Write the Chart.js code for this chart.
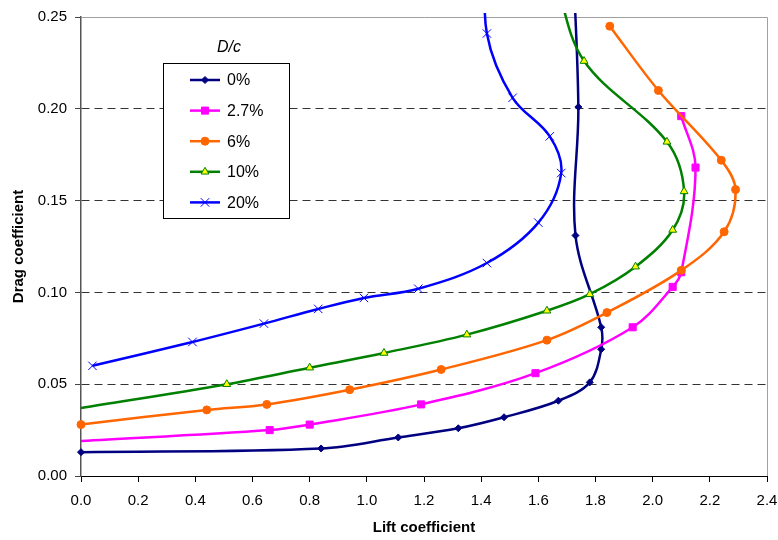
<!DOCTYPE html>
<html>
<head>
<meta charset="utf-8">
<script src="https://cdn.jsdelivr.net/npm/chart.js@4/dist/chart.umd.min.js"></script>
<style>
  html, body { margin: 0; padding: 0; background: #ffffff; }
  canvas { display: block; }
</style>
</head>
<body>
<canvas id="chart" width="778" height="540"></canvas>
<script>
// Series names (D/c)
const seriesNames = ['0%', '2.7%', '6%', '10%', '20%'];

// Lift / drag coefficient pairs per series
const lift0  = [0.00, 0.84, 1.11, 1.32, 1.48, 1.67, 1.78, 1.82, 1.82, 1.73, 1.74, 1.72];
const drag0  = [0.013, 0.015, 0.021, 0.026, 0.032, 0.041, 0.051, 0.069, 0.081, 0.131, 0.201, 0.285];

const lift27 = [0.00, 0.66, 0.80, 1.19, 1.59, 1.93, 2.07, 2.10, 2.15, 2.10];
const drag27 = [0.019, 0.025, 0.028, 0.039, 0.056, 0.081, 0.103, 0.111, 0.168, 0.196];

const lift6  = [0.00, 0.44, 0.65, 0.94, 1.26, 1.63, 1.84, 2.10, 2.25, 2.29, 2.24, 2.02, 1.85];
const drag6  = [0.028, 0.036, 0.039, 0.047, 0.058, 0.074, 0.089, 0.112, 0.133, 0.156, 0.172, 0.210, 0.245];

const lift10 = [0.00, 0.51, 0.80, 1.06, 1.35, 1.63, 1.78, 1.94, 2.07, 2.11, 2.05, 1.76, 1.66];
const drag10 = [0.037, 0.050, 0.059, 0.067, 0.077, 0.090, 0.099, 0.114, 0.134, 0.155, 0.182, 0.226, 0.270];

const lift20 = [0.04, 0.39, 0.64, 0.83, 0.99, 1.18, 1.42, 1.60, 1.68, 1.64, 1.51, 1.42, 1.42];
const drag20 = [0.060, 0.073, 0.083, 0.091, 0.097, 0.102, 0.116, 0.138, 0.165, 0.185, 0.206, 0.241, 0.285];

// Axis tick values
const liftTicks = [0.0, 0.2, 0.4, 0.6, 0.8, 1.0, 1.2, 1.4, 1.6, 1.8, 2.0, 2.2, 2.4];
const dragTicks = [0.00, 0.05, 0.10, 0.15, 0.20, 0.25];

const liftSeries = [lift0, lift27, lift6, lift10, lift20];
const dragSeries = [drag0, drag27, drag6, drag10, drag20];

// Appearance of each series
const lineColors   = ['#000080', '#FF00FF', '#FF6600', '#008000', '#0000FF'];
const markerStyles = ['rectRot', 'rect', 'circle', 'triangle', 'crossRot'];
const markerRadii  = [3.5, 5, 4, 4.5, 6];
const markerFills  = ['#000080', '#FF00FF', '#FF6600', '#FFFF00', '#0000FF'];
const markerEdges  = ['#000080', '#FF00FF', '#FF6600', '#008000', '#0000FF'];
// Series whose first point sits on the axis without a marker
const unmarkedStart = [1, 3];

const FONT = '"Liberation Sans", Arial, Helvetica, sans-serif';
Chart.defaults.font.family = FONT;
Chart.defaults.font.size = 15;
Chart.defaults.color = '#000000';

const datasets = seriesNames.map((name, i) => ({
  label: name,
  data: liftSeries[i].map((x, j) => ({ x: x, y: dragSeries[i][j] })),
  showLine: true,
  borderColor: lineColors[i],
  borderWidth: 2.5,
  backgroundColor: markerFills[i],
  pointStyle: markerStyles[i],
  pointRadius: ctx => (ctx.dataIndex === 0 && unmarkedStart.includes(i)) ? 0 : markerRadii[i],
  pointHoverRadius: markerRadii[i],
  pointBackgroundColor: markerFills[i],
  pointBorderColor: markerEdges[i],
  pointBorderWidth: 1,
  tension: 0.35,
  clip: { left: 8, top: 4, right: 2, bottom: 0 },
  order: seriesNames.length - i
}));

// Light frame along the top and right of the plot area
const framePlugin = {
  id: 'plotFrame',
  beforeDatasetsDraw(chart) {
    const { ctx, chartArea: a } = chart;
    ctx.save();
    ctx.strokeStyle = '#a0a0a0';
    ctx.lineWidth = 1;
    ctx.beginPath();
    ctx.moveTo(a.left, Math.round(a.top) + 0.5);
    ctx.lineTo(Math.round(a.right) + 0.5, Math.round(a.top) + 0.5);
    ctx.lineTo(Math.round(a.right) + 0.5, a.bottom);
    ctx.stroke();
    ctx.restore();
  }
};

// Boxed legend with a "D/c" heading, placed inside the plot
const legendBox = { left: 163, top: 63, width: 126, height: 155, headY: 48, headX: 229,
                    rowY: 80, rowGap: 30.6, lineX0: 190, lineX1: 220, textX: 227 };

function drawMarker(ctx, style, r, x, y) {
  if (Chart.helpers && Chart.helpers.drawPoint) {
    Chart.helpers.drawPoint(ctx, { pointStyle: style, radius: r, borderWidth: 1, rotation: 0 }, x, y);
    return;
  }
  ctx.beginPath();
  ctx.arc(x, y, r, 0, Math.PI * 2);
  ctx.fill();
  ctx.stroke();
}

const legendPlugin = {
  id: 'boxedLegend',
  afterDatasetsDraw(chart) {
    const ctx = chart.ctx;
    const b = legendBox;
    ctx.save();
    ctx.fillStyle = '#ffffff';
    ctx.fillRect(b.left, b.top, b.width, b.height);
    ctx.strokeStyle = '#000000';
    ctx.lineWidth = 1;
    ctx.strokeRect(b.left + 0.5, b.top + 0.5, b.width, b.height);

    ctx.fillStyle = '#000000';
    ctx.font = 'italic 16px ' + FONT;
    ctx.textAlign = 'center';
    ctx.textBaseline = 'middle';
    ctx.fillText('D/c', b.headX, b.headY);

    ctx.font = '16px ' + FONT;
    ctx.textAlign = 'left';
    chart.data.datasets.forEach((ds, i) => {
      const y = b.rowY + i * b.rowGap;
      ctx.strokeStyle = lineColors[i];
      ctx.lineWidth = 2.5;
      ctx.beginPath();
      ctx.moveTo(b.lineX0, y);
      ctx.lineTo(b.lineX1, y);
      ctx.stroke();
      ctx.fillStyle = markerFills[i];
      ctx.strokeStyle = markerEdges[i];
      ctx.lineWidth = 1;
      drawMarker(ctx, markerStyles[i], markerRadii[i], (b.lineX0 + b.lineX1) / 2, y);
      ctx.fillStyle = '#000000';
      ctx.fillText(ds.label, b.textX, y + 1);
    });
    ctx.restore();
  }
};

const near = (a, b) => Math.abs(a - b) < 1e-9;

new Chart(document.getElementById('chart'), {
  type: 'scatter',
  data: { datasets: datasets },
  plugins: [framePlugin, legendPlugin],
  options: {
    responsive: false,
    animation: false,
    devicePixelRatio: 1,
    layout: { padding: { left: 0, top: 17, right: 11, bottom: 0 } },
    elements: { line: { capBezierPoints: false } },
    plugins: {
      legend: { display: false },
      tooltip: { enabled: false }
    },
    scales: {
      x: {
        type: 'linear',
        min: 0,
        max: 2.4,
        afterBuildTicks: s => { s.ticks = liftTicks.map(v => ({ value: v })); },
        afterFit: s => { s.height = 64; s.paddingLeft = 0; s.paddingRight = 0; },
        grid: { display: true, drawOnChartArea: false, drawTicks: true, tickLength: 6, tickColor: '#000000', tickWidth: 1 },
        border: { display: true, color: '#000000', width: 1 },
        ticks: { padding: 10, autoSkip: false, maxRotation: 0, callback: v => Number(v).toFixed(1) },
        title: { display: true, text: 'Lift coefficient', font: { weight: 'bold', size: 15 }, padding: { top: 0, bottom: 3 } }
      },
      y: {
        type: 'linear',
        min: 0,
        max: 0.25,
        afterBuildTicks: s => { s.ticks = dragTicks.map(v => ({ value: v })); },
        afterFit: s => { s.width = 81; s.paddingTop = 0; s.paddingBottom = 0; },
        grid: {
          display: true,
          drawOnChartArea: true,
          drawTicks: true,
          tickLength: 6,
          lineWidth: 1,
          color: c => (c.tick && (near(c.tick.value, 0) || near(c.tick.value, 0.25))) ? 'rgba(0,0,0,0)' : '#333333',
          tickColor: '#444444',
          tickBorderDash: []
        },
        border: { display: true, color: '#555555', width: 1.5, dash: [8, 5] },
        ticks: { padding: 8, autoSkip: false, callback: v => Number(v).toFixed(2) },
        title: { display: true, text: 'Drag coefficient', font: { weight: 'bold', size: 15 }, padding: { top: 10, bottom: 0 } }
      }
    }
  }
});
</script>
</body>
</html>
